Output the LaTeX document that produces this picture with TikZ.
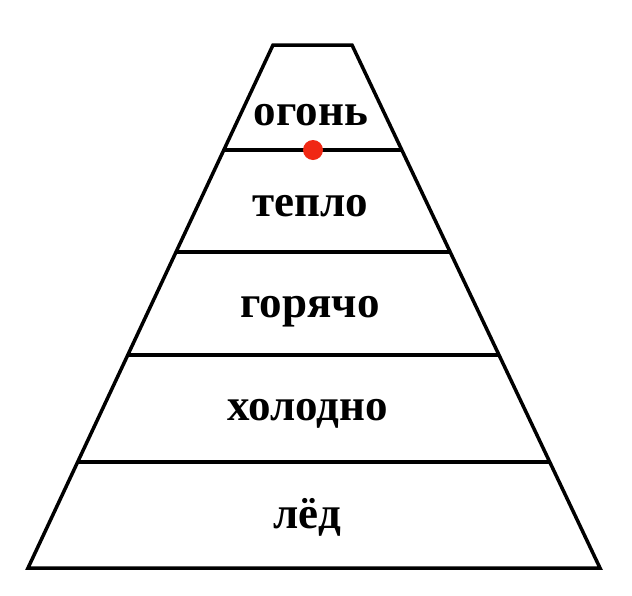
\documentclass[tikz,border=0pt]{standalone}
\usepackage{fontspec}
\setmainfont{Liberation Serif}
\usepackage{xcolor}
\definecolor{dotred}{RGB}{240,40,20}
\usetikzlibrary{calc}

\begin{document}
\begin{tikzpicture}[x=1pt, y=-1pt, edge/.style={line width = 3.5pt, line join = miter, black},
		layer/.style={font = \fontsize{45}{45}\selectfont\bfseries, inner sep = 0pt, anchor = base}]
		\useasboundingbox[fill = white] (0,0) rectangle (632,595);
		\coordinate (TL) at (273,45);
		\coordinate (TR) at (352,45);
		\coordinate (BL) at (28,568);
		\coordinate (BR) at (600,568);
		\coordinate (L1) at ($(TL)!0.2008!(BL)$);
		\coordinate (R1) at ($(TR)!0.2008!(BR)$);
		\coordinate (L2) at ($(TL)!0.3958!(BL)$);
		\coordinate (R2) at ($(TR)!0.3958!(BR)$);
		\coordinate (L3) at ($(TL)!0.5927!(BL)$);
		\coordinate (R3) at ($(TR)!0.5927!(BR)$);
		\coordinate (L4) at ($(TL)!0.7973!(BL)$);
		\coordinate (R4) at ($(TR)!0.7973!(BR)$);
		\draw[edge] (TL) -- (TR) -- (BR) -- (BL) -- cycle;
		\draw[edge] (L1) -- (R1);
		\draw[edge] (L2) -- (R2);
		\draw[edge] (L3) -- (R3);
		\draw[edge] (L4) -- (R4);
		\node (fire) [layer] at (311,125) {огонь};
		\node (warm) [layer] at (310,216) {тепло};
		\node (hot) [layer] at (310,317) {горячо};
		\node (cold) [layer] at (308,420) {холодно};
		\node (ice) [layer] at (307,528) {лёд};
		\fill[dotred] (313,150) circle (10pt);
	\end{tikzpicture}
\end{document}
